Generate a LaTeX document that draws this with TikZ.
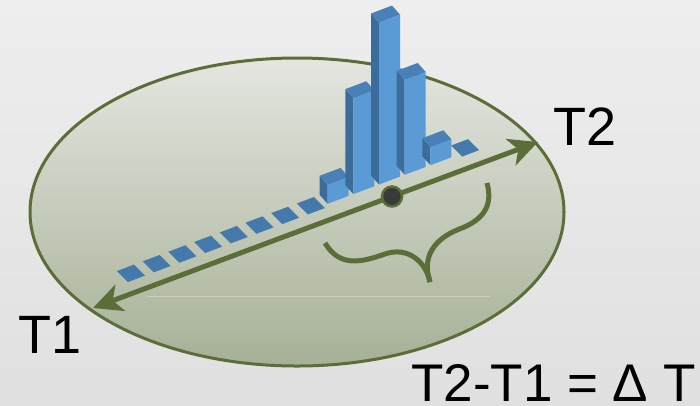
\documentclass[tikz,border=0pt]{standalone}
\usepackage{fontspec}
\setmainfont{Liberation Sans}
\usetikzlibrary{arrows.meta}
\definecolor{olive}{RGB}{91,110,56}
\definecolor{bgtop}{RGB}{238,238,238}
\definecolor{bgbot}{RGB}{224,224,224}
\definecolor{elltop}{RGB}{228,230,224}
\definecolor{ellbot}{RGB}{166,176,150}
\definecolor{barfront}{RGB}{91,155,213}
\definecolor{barside}{RGB}{60,108,154}
\definecolor{bartop}{RGB}{74,128,184}
\definecolor{tilecol}{RGB}{68,121,172}
\definecolor{dotfill}{RGB}{58,58,58}
\definecolor{sheen}{RGB}{200,207,188}
\tikzset{
  ellbox/.style={draw=olive, line width=3pt, top color=elltop, bottom color=ellbot},
  axisline/.style={draw=olive, line width=5pt, {Stealth[length=29pt,width=28pt,inset=8pt]}-{Stealth[length=29pt,width=28pt,inset=8pt]}},
  dotnode/.style={circle, fill=dotfill, draw=olive, line width=2.5pt, minimum size=20pt, inner sep=0pt},
  bracestroke/.style={draw=olive, line width=5pt},
  bigtext/.style={font=\fontsize{54}{60}\selectfont, inner sep=0pt, text=black},
}
\newcommand{\histtile}[1]{%
  \pgfmathsetmacro{\Lx}{117+25.7*#1}%
  \pgfmathsetmacro{\Ly}{271-9.65*#1}%
  \fill[tilecol] (\Lx,\Ly) -- ++(17,-6.4) -- ++(11,11) -- ++(-17,6.4) -- cycle;
}
\newcommand{\histblock}[2]{%
  \pgfmathsetmacro{\Lx}{114+25.7*#1}%
  \pgfmathsetmacro{\Ly}{272-9.65*#1}%
  \fill[barside] (\Lx,\Ly) -- ++(8,9) -- ++(0,-#2) -- ++(-8,-9) -- cycle;
  \fill[barfront] (\Lx+8,\Ly+9) -- ++(21,-7.9) -- ++(0,-#2) -- ++(-21,7.9) -- cycle;
  \fill[bartop] (\Lx,\Ly-#2) -- ++(21,-7.9) -- ++(8,9) -- ++(-21,7.9) -- cycle;
}
\begin{document}
\begin{tikzpicture}[x=1pt,y=-1pt]
\shade[top color=bgtop, bottom color=bgbot] (0,0) rectangle (700,405);
\useasboundingbox (0,0) rectangle (700,405);
% plane
\path[ellbox] (297,212) ellipse [x radius=267, y radius=154];
\draw[sheen, line width=1pt] (147,296) -- (490,296);
% histogram
\foreach \i in {0,...,7} {\histtile{\i}}
\histblock{8}{19}
\histblock{9}{96}
\histblock{10}{162}
\histblock{11}{95}
\histblock{12}{18}
\histtile{13}
% axis
\coordinate (t1) at (93,308);
\coordinate (t2) at (538,142);
\draw[axisline] (t1) -- (t2);
\node[dotnode] (mid) at (392,196.5) {};
% brace
\draw[bracestroke] (325,243) .. controls (340,268) and (362,262) .. (385,254)
   .. controls (408,246) and (426,262) .. (430,282);
\draw[bracestroke] (430,282) .. controls (420,252) and (440,236) .. (462,228)
   .. controls (484,219) and (493,205) .. (487,183);
% labels
\node[bigtext, anchor=base west] (lt2) at (553,145) {T2};
\node[bigtext, anchor=base west] (lt1) at (18,353) {T1};
\node[bigtext, anchor=base west, font=\fontsize{53}{60}\selectfont] (ldt) at (411,401) {T2-T1 = Δ T};
\end{tikzpicture}
\end{document}
